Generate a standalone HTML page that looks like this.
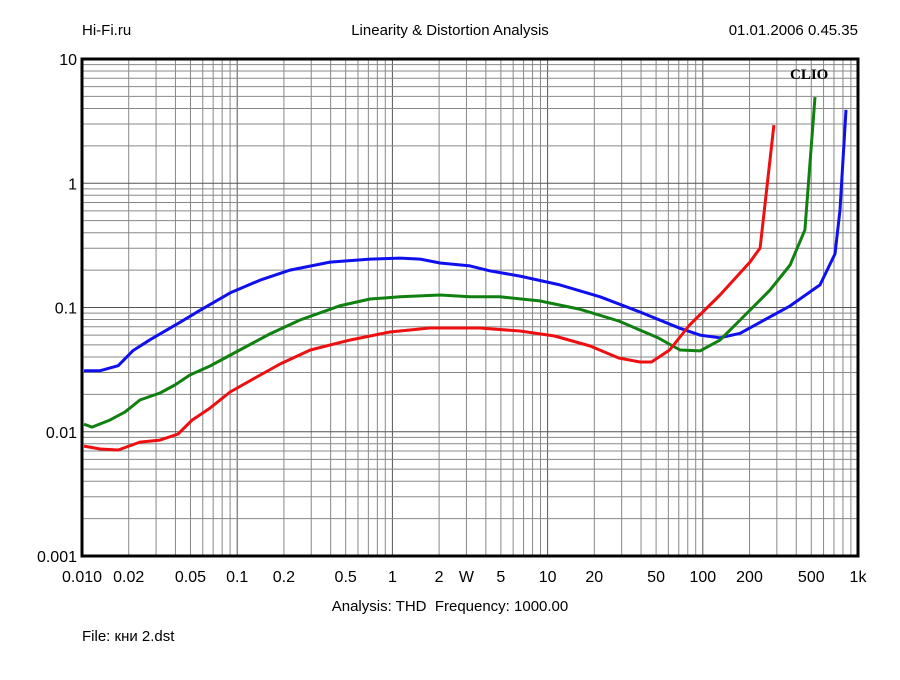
<!DOCTYPE html>
<html><head><meta charset="utf-8"><style>
body{margin:0;background:#fff;width:900px;height:675px;overflow:hidden;font-family:"Liberation Sans",sans-serif}
svg text{font-family:"Liberation Sans","Noto Sans CJK SC",sans-serif;fill:#000}
</style></head><body>
<svg id="chart" width="900" height="675" xmlns="http://www.w3.org/2000/svg">
<text x="82" y="35" font-size="15">Hi-Fi.ru</text>
<text x="450" y="35" font-size="15" text-anchor="middle">Linearity &amp; Distortion Analysis</text>
<text x="858" y="35" font-size="15" text-anchor="end">01.01.2006 0.45.35</text>
<g id="grid"></g>
<g id="series"></g>
<rect x="82" y="59" width="776" height="497" fill="none" stroke="#000" stroke-width="3"/>
<text x="790" y="79" font-size="15" font-weight="bold" style="font-family:'Liberation Serif',serif">CLIO</text>
<g id="ticks"></g>
<text x="450" y="611" font-size="15" text-anchor="middle">Analysis: THD&#160;&#160;Frequency: 1000.00</text>
<text x="82" y="641" font-size="15">File: кни 2.dst</text>
</svg>
<script>
const blueX=[0.0103,0.0131,0.0171,0.0213,0.0274,0.0428,0.0576,0.090,0.140,0.219,0.396,0.717,1.12,1.51,2.03,3.16,4.26,6.64,12.0,21.8,39.4,71.3,95.9,129,174,234,365,569,711,766,837];
const blueY=[0.031,0.031,0.034,0.045,0.055,0.076,0.095,0.131,0.166,0.200,0.232,0.245,0.250,0.245,0.228,0.216,0.197,0.179,0.152,0.122,0.092,0.068,0.060,0.057,0.062,0.076,0.103,0.152,0.27,0.61,3.9];
const greenX=[0.0103,0.0116,0.0151,0.0189,0.0236,0.0318,0.0397,0.0496,0.0668,0.104,0.162,0.254,0.456,0.717,1.12,2.03,3.16,4.93,8.88,16.0,28.7,51.7,71.3,95.9,129,174,271,365,455,528];
const greenY=[0.0115,0.0109,0.0124,0.0144,0.0180,0.0205,0.0238,0.0286,0.0338,0.0455,0.0612,0.0793,0.103,0.117,0.122,0.126,0.122,0.122,0.113,0.097,0.0778,0.0569,0.0455,0.0447,0.0547,0.0793,0.138,0.220,0.421,4.94];
const redX=[0.0103,0.0131,0.0171,0.0236,0.0318,0.0416,0.0512,0.0668,0.090,0.130,0.189,0.296,0.531,0.962,1.74,3.64,6.64,11.1,18.8,28.7,39.4,46.7,61.1,82.2,129,201,234,287];
const redY=[0.00767,0.00726,0.00713,0.00826,0.00857,0.0096,0.0124,0.0155,0.0209,0.0271,0.0351,0.0455,0.0547,0.0635,0.0684,0.0684,0.0647,0.059,0.049,0.0392,0.0364,0.0364,0.0455,0.0723,0.126,0.232,0.301,2.94];
const xTickVals=[0.01,0.02,0.05,0.1,0.2,0.5,1,2,3,5,10,20,50,100,200,500,1000];
const xTickLabels=["0.010","0.02","0.05","0.1","0.2","0.5","1","2","W","5","10","20","50","100","200","500","1k"];
const yTickVals=[10,1,0.1,0.01,0.001];
const yTickLabels=["10","1","0.1","0.01","0.001"];
const L=82,R=858,T=59,B=556;
const xs=v=>L+(Math.log10(v)+2)/5*(R-L);
const ys=v=>T+(1-Math.log10(v))/4*(B-T);
const NS="http://www.w3.org/2000/svg";
const grid=document.getElementById('grid');
for(let d=-2;d<3;d++)for(let m=1;m<10;m++){
 const v=m*Math.pow(10,d);if(v<=0.01)continue;
 const l=document.createElementNS(NS,'line');
 l.setAttribute('x1',xs(v));l.setAttribute('x2',xs(v));l.setAttribute('y1',T);l.setAttribute('y2',B);
 l.setAttribute('stroke',m==1?'#555':'#888');l.setAttribute('stroke-width','1');
 
 
 grid.appendChild(l);}
for(let d=-3;d<1;d++)for(let m=1;m<10;m++){
 const v=m*Math.pow(10,d);if(v<=0.001)continue;
 const l=document.createElementNS(NS,'line');
 l.setAttribute('y1',ys(v));l.setAttribute('y2',ys(v));l.setAttribute('x1',L);l.setAttribute('x2',R);
 l.setAttribute('stroke',m==1?'#555':'#888');l.setAttribute('stroke-width','1');
 
 
 grid.appendChild(l);}
const ser=document.getElementById('series');
function drawLine(X,Y,c,n){
 const p=document.createElementNS(NS,'polyline');
 p.setAttribute('points',X.map((x,i)=>xs(x).toFixed(1)+','+ys(Y[i]).toFixed(1)).join(' '));
 p.setAttribute('fill','none');p.setAttribute('stroke',c);p.setAttribute('stroke-width','3');p.setAttribute('stroke-linejoin','round');
 
 
 ser.appendChild(p);}
drawLine(blueX,blueY,'#1010ee','blue-thd-curve');
drawLine(greenX,greenY,'#108010','green-thd-curve');
drawLine(redX,redY,'#ee1010','red-thd-curve');
const tk=document.getElementById('ticks');
xTickVals.forEach((v,i)=>{const t=document.createElementNS(NS,'text');
 t.setAttribute('x',xs(v));t.setAttribute('y',582);t.setAttribute('font-size','16');t.setAttribute('text-anchor','middle');
 t.textContent=xTickLabels[i];
 
 
 tk.appendChild(t);});
yTickVals.forEach((v,i)=>{const t=document.createElementNS(NS,'text');
 t.setAttribute('x',77);t.setAttribute('y',ys(v)+6);t.setAttribute('font-size','16');t.setAttribute('text-anchor','end');
 t.textContent=yTickLabels[i];
 
 
 tk.appendChild(t);});
</script>
</body></html>
